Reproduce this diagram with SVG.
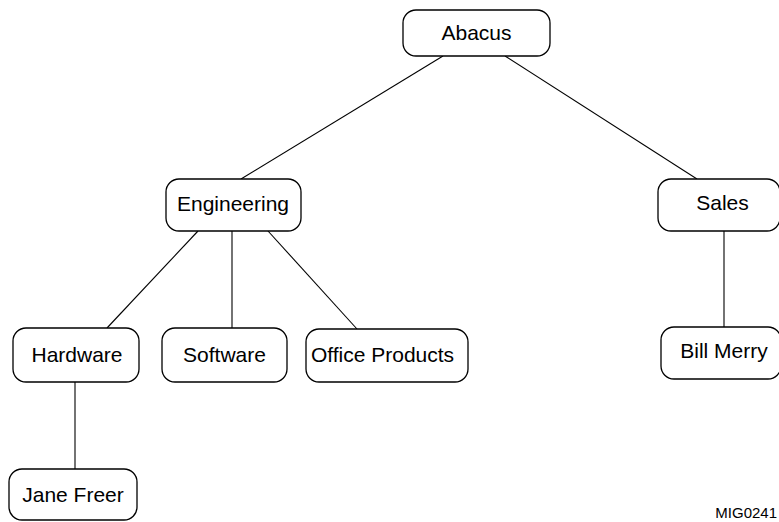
<svg xmlns="http://www.w3.org/2000/svg" width="779" height="522" viewBox="0 0 779 522">
<style>
.box{fill:#fff;stroke:#000;stroke-width:1.3}
.lbl{font-family:"Liberation Sans",Arial,sans-serif;font-size:21px;fill:#000;text-anchor:middle}
.con{stroke:#000;stroke-width:1.1;fill:none}
.tag{font-family:"Liberation Sans",Arial,sans-serif;font-size:15px;fill:#000;text-anchor:end}
</style>
<rect width="779" height="522" fill="#fff"/>
<g id="connectors">
<line class="con" x1="443" y1="56" x2="241" y2="179"/>
<line class="con" x1="505" y1="56" x2="697" y2="179"/>
<line class="con" x1="198" y1="231" x2="107" y2="328"/>
<line class="con" x1="232" y1="231" x2="232" y2="328"/>
<line class="con" x1="268" y1="231" x2="357" y2="329"/>
<line class="con" x1="724" y1="231" x2="724" y2="327"/>
<line class="con" x1="75" y1="382" x2="75" y2="469"/>
</g>
<g id="abacus"><rect class="box" x="403" y="10" width="147" height="46" rx="13"/><text class="lbl" x="476.5" y="40">Abacus</text></g>
<g id="engineering"><rect class="box" x="166" y="179" width="135" height="52" rx="13"/><text class="lbl" x="233" y="211">Engineering</text></g>
<g id="sales"><rect class="box" x="658" y="179" width="122" height="52" rx="13"/><text class="lbl" x="722.5" y="210">Sales</text></g>
<g id="hardware"><rect class="box" x="13" y="328" width="126" height="54" rx="13"/><text class="lbl" x="77" y="362">Hardware</text></g>
<g id="software"><rect class="box" x="162" y="328" width="125" height="54" rx="13"/><text class="lbl" x="224.5" y="362">Software</text></g>
<g id="office-products"><rect class="box" x="306" y="329" width="162" height="53" rx="13"/><text class="lbl" x="382.5" y="362">Office Products</text></g>
<g id="bill-merry"><rect class="box" x="661" y="327" width="120" height="52" rx="13"/><text class="lbl" x="724" y="358">Bill Merry</text></g>
<g id="jane-freer"><rect class="box" x="9" y="469" width="128" height="51" rx="13"/><text class="lbl" x="73" y="502">Jane Freer</text></g>
<text class="tag" x="777" y="518">MIG0241</text>
</svg>
